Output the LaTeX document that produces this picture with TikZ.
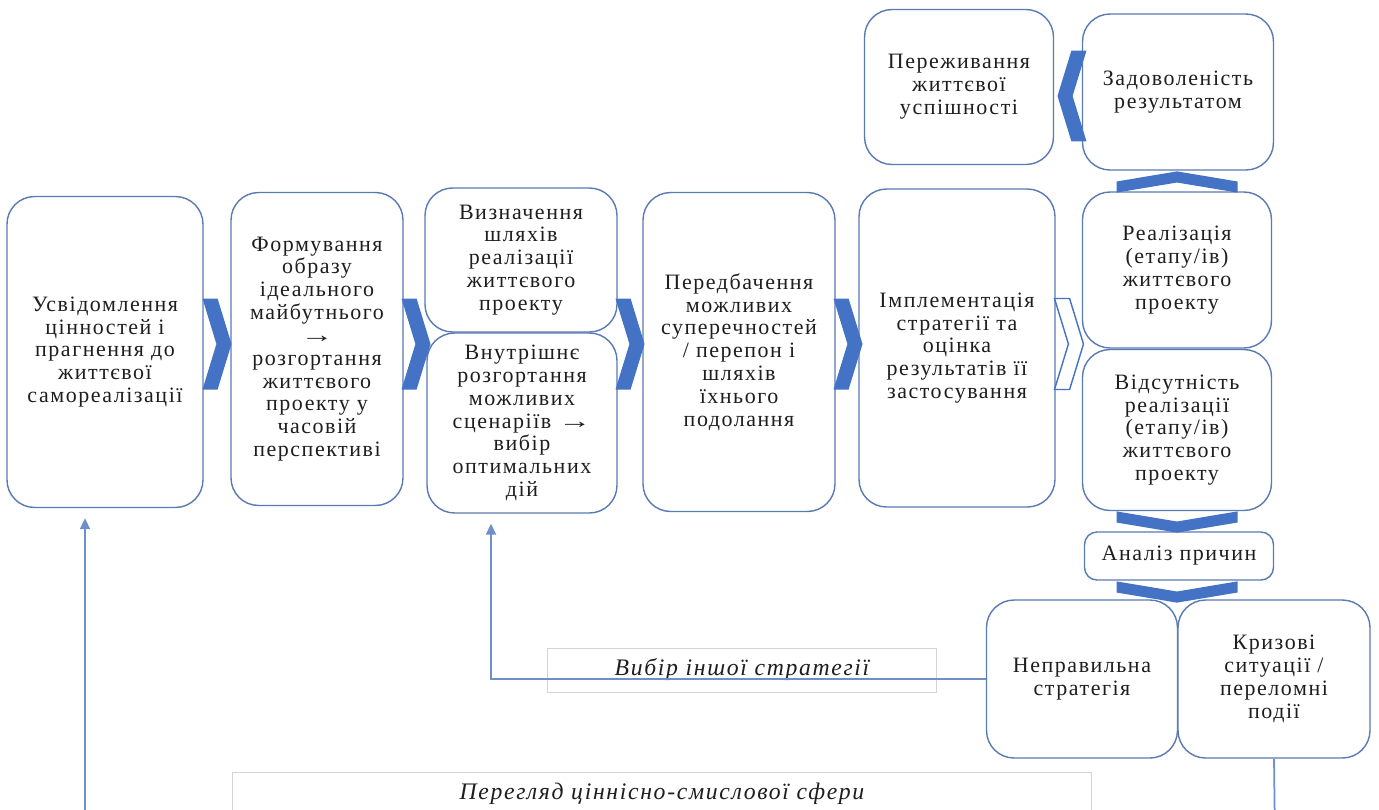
\documentclass[tikz,border=0pt]{standalone}
\usepackage{fontspec}
\setmainfont{Liberation Serif}[LetterSpace=7]
\usepackage{tikz}
\usetikzlibrary{shapes.symbols, arrows.meta}
\definecolor{chevblue}{HTML}{4472C4}
\definecolor{edgeblue}{HTML}{5A7AB2}
\definecolor{lineblue}{HTML}{6F8FCB}
\definecolor{notegray}{HTML}{D4D4D4}
\definecolor{textgray}{HTML}{1E1E1E}
\newcommand{\longarr}{\scalebox{1.5}[1]{→}}
\tikzstyle{stage} = [rectangle, rounded corners=0.55cm, draw=edgeblue, line width=0.8pt, fill=white, align=center, text=textgray, font=\fontsize{12.5}{13}\selectfont, inner sep=2pt]
\tikzstyle{chevron} = [signal, signal to=east, signal from=west, signal pointer angle=146, fill=chevblue, draw=none, inner sep=0pt, minimum width=0.58cm, minimum height=1.82cm]
\tikzstyle{chevdown} = [signal, signal to=south, signal from=north, signal pointer angle=161, fill=chevblue, draw=none, inner sep=0pt, minimum width=2.42cm, minimum height=0.02cm]
\tikzstyle{note} = [rectangle, draw=notegray, line width=0.5pt, fill=white, text=textgray, font=\fontsize{13.5}{14}\selectfont\itshape, minimum height=0.88cm]
\tikzstyle{arrow} = [draw=lineblue, line width=1pt, -{Triangle[width=0.2cm,length=0.22cm]}, shorten >=0.2cm]

\begin{document}
\begin{tikzpicture}[x=0.02cm, y=-0.02cm]
		\useasboundingbox (0,0) rectangle (1379,809);
		\clip (0,0) rectangle (1379,809);
		
		\node (usv) [stage, minimum width=3.92cm, minimum height=6.22cm] at (105,352) {Усвідомлення\\ цінностей і\\ прагнення до\\ життєвої\\ самореалізації};
		\node (form) [stage, minimum width=3.44cm, minimum height=6.26cm] at (317,349) {Формування\\ образу\\ ідеального\\ майбутнього\\ \longarr\\ розгортання\\ життєвого\\ проекту у\\ часовій\\ перспективі};
		\node (shl) [stage, minimum width=3.84cm, minimum height=2.88cm] at (521,260) {Визначення\\ шляхів\\ реалізації\\ життєвого\\ проекту};
		\node (scen) [stage, minimum width=3.80cm, minimum height=3.60cm] at (522,423) {Внутрішнє\\ розгортання\\ можливих\\ сценаріїв~\longarr\\ вибір\\ оптимальних\\ дій};
		\node (pered) [stage, minimum width=3.84cm, minimum height=6.38cm] at (739,352) {Передбачення\\ можливих\\ суперечностей\\ / перепон і\\ шляхів\\ їхнього\\ подолання};
		\node (impl) [stage, minimum width=3.92cm, minimum height=6.36cm] at (957,348) {Імплементація\\ стратегії та\\ оцінка\\ результатів її\\ застосування};
		\node (real) [stage, minimum width=3.78cm, minimum height=3.12cm] at (1177,270) {Реалізація\\ (етапу/ів)\\ життєвого\\ проекту};
		\node (nereal) [stage, minimum width=3.78cm, minimum height=3.22cm] at (1177,430) {Відсутність\\ реалізації\\ (етапу/ів)\\ життєвого\\ проекту};
		\node (uspih) [stage, minimum width=3.78cm, minimum height=3.10cm] at (959,87) {Переживання\\ життєвої\\ успішності};
		\node (zadov) [stage, minimum width=3.82cm, minimum height=3.12cm] at (1178,92) {Задоволеність\\ результатом};
		\node (analiz) [stage, rounded corners=0.25cm, minimum width=3.78cm, minimum height=0.96cm] at (1179,556) {Аналіз причин};
		\node (nepr) [stage, minimum width=3.82cm, minimum height=3.16cm] at (1082,679) {Неправильна\\ стратегія};
		\node (kriz) [stage, minimum width=3.84cm, minimum height=3.16cm] at (1274,679) {Кризові\\ ситуації /\\ переломні\\ події};
		
		\node (vybir) [note, minimum width=7.78cm] at (742,670) {Вибір іншої стратегії};
		\node (perehl) [note, minimum width=17.2cm] at (662,794) {Перегляд ціннісно-смислової сфери};
		
		\coordinate (turn1) at (491,679);
		\coordinate (turn2) at (1275,840);
		\coordinate (turn3) at (85,840);
		
		\draw [arrow] (nepr.west) -- (turn1) -- (turn1 |- scen.south);
		\draw [arrow] (kriz.south) -- (turn2) -- (turn3) -- (turn3 |- usv.south);
		
		\node (ch1) [chevron] at (217,344) {};
		\node (ch2) [chevron] at (416,344) {};
		\node (ch3) [chevron] at (630,344) {};
		\node (ch4) [chevron] at (848,344) {};
		\node (ch5) [chevron, fill=white, draw=chevblue, line width=0.8pt] at (1069,344) {};
		\node (ch6) [chevron, signal to=west, signal from=east] at (1072,96) {};
		\node (ch7) [chevdown, signal to=north, signal from=south] at (1177,182) {};
		\node (ch8) [chevdown] at (1177,522) {};
		\node (ch9) [chevdown] at (1177,592) {};
		
		\end{tikzpicture}
\end{document}
